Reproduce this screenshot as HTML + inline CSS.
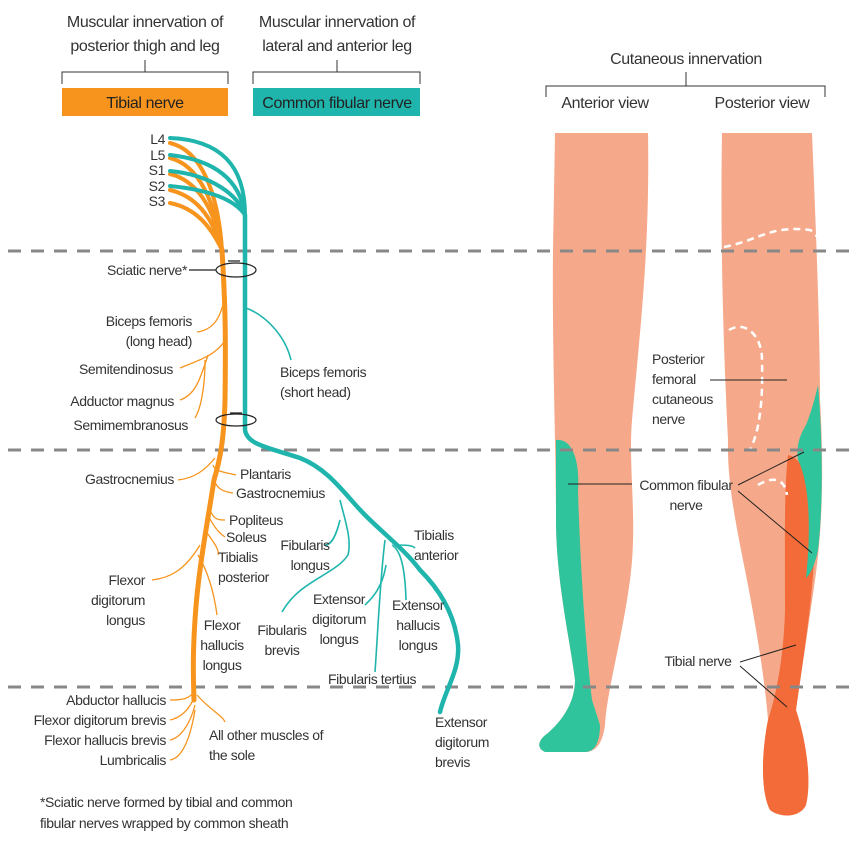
<!DOCTYPE html>
<html><head><meta charset="utf-8"><style>
html,body{margin:0;padding:0;background:#fff}
svg text{font-family:"Liberation Sans",sans-serif;fill:#333;font-size:14px;letter-spacing:-0.4px}
</style></head><body>
<svg width="857" height="838" viewBox="0 0 857 838" xmlns="http://www.w3.org/2000/svg">
<g text-anchor="middle">
<text x="145" y="27" style="font-size:16px">Muscular innervation of</text>
<text x="145" y="51" style="font-size:16px">posterior thigh and leg</text>
<text x="337" y="27" style="font-size:16px">Muscular innervation of</text>
<text x="337" y="51" style="font-size:16px">lateral and anterior leg</text>
<text x="686" y="64" style="font-size:16px">Cutaneous innervation</text>
<text x="605" y="108" style="font-size:16px">Anterior view</text>
<text x="762" y="108" style="font-size:16px">Posterior view</text>
</g>
<g stroke="#333" stroke-width="1" fill="none">
<path d="M62,84 V72 H228 V84 M145,72 V60"/>
<path d="M253,84 V72 H420 V84 M337,72 V60"/>
<path d="M546,97 V86 H825 V97 M686,86 V72"/>
</g>
<rect x="62" y="88" width="166" height="28" fill="#f7941d"/>
<rect x="253" y="88" width="167" height="28" fill="#1fb5ad"/>
<text x="145" y="108" text-anchor="middle" style="font-size:16px;fill:#222">Tibial nerve</text>
<text x="337" y="108" text-anchor="middle" style="font-size:16px;fill:#222">Common fibular nerve</text>

<!-- legs -->
<path d="M555,133 L648,133 C650,250 640,330 632,420 C628,470 638,520 630,580 C622,640 607,690 605,725 C603,740 598,752 585,752 L545,752 C536,748 538,740 548,733 C565,718 575,700 575,680 C570,640 556,580 556,520 C556,450 552,350 553,250 Z" fill="#f5a98a"/>
<path d="M556,440 C572,438 580,460 578,490 C580,560 585,640 592,700 L600,725 C600,742 595,752 585,752 L545,752 C536,748 538,740 548,733 C565,718 575,700 575,680 C570,640 556,580 556,520 Z" fill="#2fc49c"/>
<path d="M722,133 L812,133 C816,230 820,330 820,400 C823,450 824,520 815,580 C808,630 800,680 796,710 C806,740 812,780 806,805 C800,818 780,818 770,810 C760,790 762,750 768,720 C765,680 755,620 745,570 C735,520 727,480 728,440 C724,360 720,250 722,133 Z" fill="#f5a98a"/>
<path d="M788,455 C805,458 815,490 815,540 C813,600 803,660 796,710 C806,740 812,780 806,805 C800,818 780,818 770,810 C760,790 762,750 768,720 C778,690 784,650 785,610 C785,540 784,490 788,455 Z" fill="#f26b38"/>
<path d="M818,385 C822,430 824,500 818,550 C815,565 810,575 806,578 C812,520 808,480 798,460 C796,445 800,435 806,425 C812,410 815,398 818,385 Z" fill="#2fc49c"/>
<g stroke="#fff" stroke-width="2.5" stroke-dasharray="7,5" fill="none">
<path d="M724,247 C760,240 770,225 810,230 C830,240 828,300 826,330 C825,370 825,390 822,400"/>
<path d="M729,330 C745,320 762,335 762,360 C763,400 760,430 750,450"/>
<path d="M758,485 C775,475 785,480 787,495"/>
</g>
<g stroke="#222" stroke-width="1" fill="none">
<path d="M710,380 H787"/>
<path d="M568,484 H632"/>
<path d="M738,485 L804,452 M738,491 L812,553"/>
<path d="M740,662 L796,645 M740,666 L787,707"/>
</g>
<g text-anchor="start">
<text x="652" y="364">Posterior</text>
<text x="652" y="384">femoral</text>
<text x="652" y="404">cutaneous</text>
<text x="652" y="424">nerve</text>
</g>
<text x="686" y="490" text-anchor="middle">Common fibular</text>
<text x="686" y="510" text-anchor="middle">nerve</text>
<text x="698" y="666" text-anchor="middle">Tibial nerve</text>

<g stroke="#888" stroke-width="3" stroke-dasharray="13,10">
<line x1="8" y1="251" x2="857" y2="251"/>
<line x1="8" y1="450" x2="857" y2="450"/>
<line x1="8" y1="687" x2="857" y2="687"/>
</g>

<g text-anchor="end" style="font-size:13px">
<text x="165" y="144">L4</text><text x="165" y="160">L5</text><text x="165" y="175">S1</text><text x="165" y="191">S2</text><text x="165" y="206">S3</text>
</g>
<g stroke="#f7941d" stroke-width="4" fill="none" stroke-linecap="round">
<path d="M170,143 C200,150 218,190 222,250"/>
<path d="M170,158 C198,165 215,200 222,250"/>
<path d="M170,174 C195,180 214,205 222,250"/>
<path d="M170,190 C195,196 212,215 222,250"/>
<path d="M170,203 C195,208 210,225 222,250"/>
<path d="M222,250 C225,300 226,330 225,400 C224,440 220,460 214,480 C208,520 198,570 195,620 C193,650 193,670 194,700" stroke-width="5"/>
</g>
<g stroke="#1fb5ad" stroke-width="4" fill="none" stroke-linecap="round">
<path d="M170,138 C220,140 245,165 245,215"/>
<path d="M170,155 C215,160 240,180 245,215"/>
<path d="M170,171 C212,175 238,195 245,215"/>
<path d="M170,186 C210,190 235,200 245,215"/>
<path d="M245,215 V430 C247,445 270,448 300,458 C330,470 345,495 365,515 C385,535 405,550 420,570 C440,590 455,615 458,645 C460,670 445,690 440,712" stroke-width="4.5"/>
</g>
<g stroke="#1fb5ad" stroke-width="1.6" fill="none">
<path d="M246,308 C265,315 285,335 291,360"/>
<path d="M340,500 C345,520 352,540 348,555 C335,575 300,580 282,612"/>
<path d="M340,520 C335,540 330,545 325,545"/>
<path d="M385,540 C380,580 378,630 375,672"/>
<path d="M386,565 C382,590 370,600 365,605"/>
<path d="M392,545 C400,550 405,565 406,600"/>
<path d="M395,545 C405,545 412,545 415,548"/>
</g>
<g stroke="#f7941d" stroke-width="1.3" fill="none">
<path d="M224,300 C220,320 212,330 197,332"/>
<path d="M224,342 C215,355 200,360 180,368"/>
<path d="M208,355 C200,380 195,395 180,400"/>
<path d="M205,360 C205,390 200,410 195,418"/>
<path d="M215,458 C205,470 195,478 178,480"/>
<path d="M213,465 C215,472 225,472 236,475"/>
<path d="M213,475 C215,490 225,492 233,493"/>
<path d="M209,505 C212,520 218,520 225,520"/>
<path d="M208,515 C215,530 222,535 225,537"/>
<path d="M205,530 C212,540 220,550 218,555"/>
<path d="M200,545 C185,570 170,578 152,580"/>
<path d="M198,555 C210,575 215,600 217,615"/>
<path d="M195,690 C190,700 180,700 170,700"/>
<path d="M195,695 C190,710 180,718 170,720"/>
<path d="M195,705 C190,725 180,738 170,740"/>
<path d="M195,710 C190,740 182,758 170,760"/>
<path d="M197,695 C210,710 222,715 225,722"/>
</g>
<g stroke="#222" stroke-width="1.2" fill="none">
<ellipse cx="236" cy="270" rx="20" ry="7"/>
<ellipse cx="236" cy="420" rx="20" ry="6"/>
<path d="M228,261 H240 M230,413 H242"/>
<path d="M189,270 H216"/>
</g>
<g text-anchor="end">
<text x="187" y="275">Sciatic nerve*</text>
<text x="192" y="326">Biceps femoris</text>
<text x="192" y="346">(long head)</text>
<text x="173" y="374">Semitendinosus</text>
<text x="174" y="406">Adductor magnus</text>
<text x="188" y="430">Semimembranosus</text>
<text x="174" y="484">Gastrocnemius</text>
<text x="145" y="585">Flexor</text>
<text x="145" y="605">digitorum</text>
<text x="145" y="625">longus</text>
<text x="166" y="705">Abductor hallucis</text>
<text x="166" y="725">Flexor digitorum brevis</text>
<text x="166" y="745">Flexor hallucis brevis</text>
<text x="166" y="765">Lumbricalis</text>
</g>
<g text-anchor="start">
<text x="240" y="479">Plantaris</text>
<text x="236" y="498">Gastrocnemius</text>
<text x="229" y="525">Popliteus</text>
<text x="226" y="542">Soleus</text>
<text x="218" y="562">Tibialis</text>
<text x="218" y="582">posterior</text>
<text x="209" y="740">All other muscles of</text>
<text x="209" y="760">the sole</text>
<text x="280" y="377">Biceps femoris</text>
<text x="280" y="397">(short head)</text>
<text x="414" y="540">Tibialis</text>
<text x="414" y="560">anterior</text>
<text x="435" y="727">Extensor</text>
<text x="435" y="747">digitorum</text>
<text x="435" y="767">brevis</text>
<text x="328" y="684">Fibularis tertius</text>
</g>
<g text-anchor="middle">
<text x="222" y="630">Flexor</text>
<text x="222" y="650">hallucis</text>
<text x="222" y="670">longus</text>
<text x="305" y="550">Fibularis</text>
<text x="310" y="570">longus</text>
<text x="282" y="635">Fibularis</text>
<text x="282" y="655">brevis</text>
<text x="339" y="604">Extensor</text>
<text x="339" y="624">digitorum</text>
<text x="339" y="644">longus</text>
<text x="418" y="610">Extensor</text>
<text x="418" y="630">hallucis</text>
<text x="418" y="650">longus</text>
</g>
<text x="40" y="807">*Sciatic nerve formed by tibial and common</text>
<text x="40" y="828">fibular nerves wrapped by common sheath</text>
</svg>
</body></html>
